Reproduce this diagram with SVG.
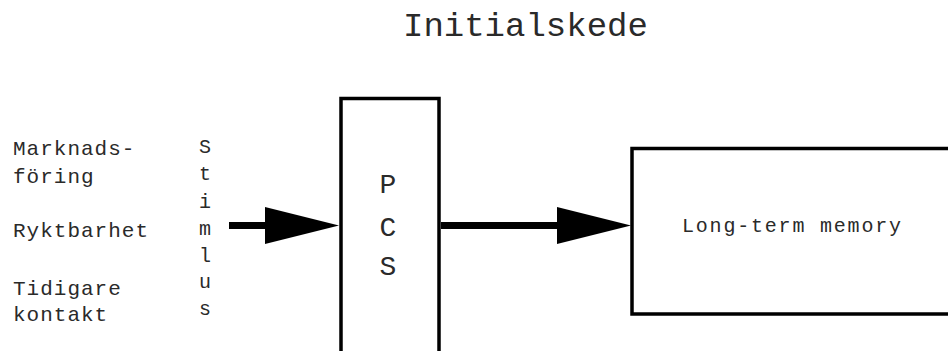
<svg xmlns="http://www.w3.org/2000/svg" width="948" height="351" viewBox="0 0 948 351">
  <style>
    .t { font-family: "Liberation Mono", "DejaVu Sans Mono", monospace; fill: #2a2a2a; }
    .box { fill: #fff; stroke: #000; stroke-width: 3.5; }
    .link { fill: none; stroke: #000; stroke-width: 7; }
  </style>
  <defs>
    <!-- solid wedge arrowhead; tip sits 39px past the end of the shaft -->
    <marker id="head" markerUnits="userSpaceOnUse" markerWidth="74" markerHeight="37" refX="35" refY="18.5" orient="auto" overflow="visible">
      <path d="M0,0 L74,18.5 L0,37 Z" fill="#000"/>
    </marker>
  </defs>

  <rect width="948" height="351" fill="#fff"/>

  <!-- heading -->
  <text class="t" x="403" y="36" font-size="34">Initialskede</text>

  <!-- input factors -->
  <g id="factors" class="t" font-size="21" letter-spacing="1">
    <text x="13" y="155">Marknads-</text>
    <text x="13" y="183">föring</text>
    <text x="13" y="237">Ryktbarhet</text>
    <text x="13" y="295">Tidigare</text>
    <text x="13" y="321">kontakt</text>
  </g>

  <!-- vertical "Stimulus" label -->
  <g id="stimulus" class="t" font-size="20" text-anchor="middle">
    <text x="205" y="153">S</text>
    <text x="205" y="180">t</text>
    <text x="205" y="208">i</text>
    <text x="205" y="235">m</text>
    <text x="205" y="262">l</text>
    <text x="205" y="288">u</text>
    <text x="205" y="315">s</text>
  </g>

  <!-- PCS box -->
  <g id="pcs">
    <rect class="box" x="341" y="98.5" width="98" height="270"/>
    <g class="t" font-size="28" text-anchor="middle">
      <text x="388" y="193">P</text>
      <text x="388" y="236">C</text>
      <text x="388" y="275">S</text>
    </g>
  </g>

  <!-- long-term memory box (runs off the right edge) -->
  <g id="ltm">
    <rect class="box" x="632" y="148.5" width="340" height="165.5"/>
    <text class="t" x="682" y="232" font-size="20" letter-spacing="1.8">Long-term memory</text>
  </g>

  <!-- connectors -->
  <g id="connectors">
    <path class="link" d="M229,225.5 H300" marker-end="url(#head)"/>
    <path class="link" d="M441,225.5 H592" marker-end="url(#head)"/>
  </g>
</svg>
